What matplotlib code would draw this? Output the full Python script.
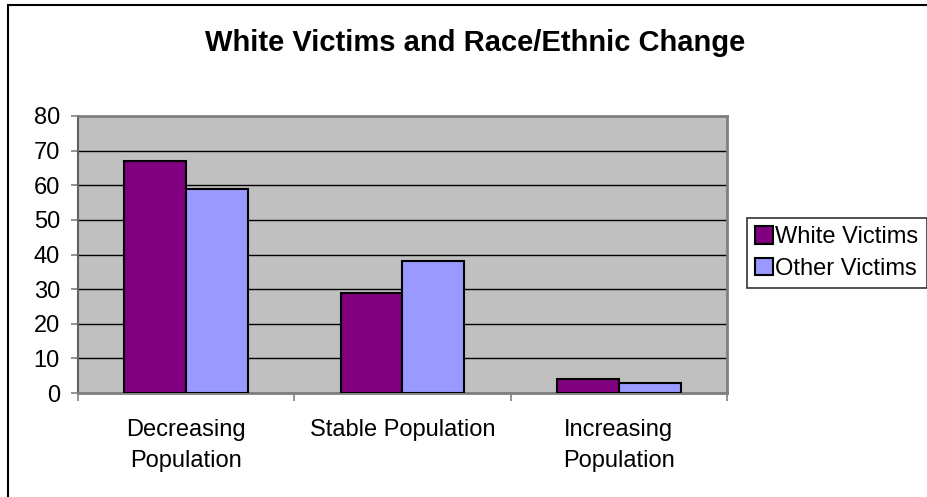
"""
White victims vs other victims by neighbourhood race/ethnic change.
"""

import matplotlib
matplotlib.use('Agg')
import matplotlib.pyplot as plt
from matplotlib.patches import Rectangle
import numpy as np

plt.rcParams['font.family'] = ['Liberation Sans', 'DejaVu Sans']

# Data
categories = ['Decreasing\nPopulation', 'Stable Population', 'Increasing\nPopulation']
white_victims = [67, 29, 4]
other_victims = [59, 38, 3]
series_names = ['White Victims', 'Other Victims']
y_ticks = [0, 10, 20, 30, 40, 50, 60, 70, 80]

WHITE_COLOR = '#800080'
OTHER_COLOR = '#9999FF'
PLOT_BG = '#C0C0C0'
AXIS_GRAY = '#808080'

fig = plt.figure(figsize=(9.28, 4.97), dpi=100)
fig.patch.set_facecolor('white')

# Chart frame (runs off the right and bottom edges)
fig.patches.append(Rectangle((8 / 928, -0.05), 1.0, 1 - 5 / 497 + 0.05,
                             transform=fig.transFigure, fill=False,
                             edgecolor='black', linewidth=1.5, zorder=0))

ax = fig.add_axes([78 / 928, 1 - 393 / 497, (727 - 78) / 928, (393 - 116) / 497])
ax.set_facecolor(PLOT_BG)

x = np.arange(len(categories))
width = 1 / 3.5
ax.bar(x - width / 2, white_victims, width, color=WHITE_COLOR,
       edgecolor='black', linewidth=1.5, label=series_names[0], zorder=3)
ax.bar(x + width / 2, other_victims, width, color=OTHER_COLOR,
       edgecolor='black', linewidth=1.5, label=series_names[1], zorder=3)

ax.set_xlim(-0.5, len(categories) - 0.5)
ax.set_ylim(0, 80)
ax.set_yticks(y_ticks)
ax.yaxis.grid(True, color='black', linewidth=1.0, zorder=1)
ax.set_axisbelow(True)

# Category labels centred, tick marks on the boundaries between groups
ax.set_xticks(x)
ax.set_xticklabels(categories, fontsize=17, linespacing=1.5)
ax.set_xticks(np.arange(-0.5, len(categories)), minor=True)
ax.tick_params(axis='x', which='major', length=0, pad=19)
ax.tick_params(axis='x', which='minor', length=6, color=AXIS_GRAY, width=1.2)
ax.tick_params(axis='y', length=5, color=AXIS_GRAY, width=1.2, labelsize=17, pad=8)

for side in ['top', 'right']:
    ax.spines[side].set_color(AXIS_GRAY)
    ax.spines[side].set_linewidth(2)
ax.spines['left'].set_color('#606060')
ax.spines['left'].set_linewidth(1.5)
ax.spines['bottom'].set_color(AXIS_GRAY)
ax.spines['bottom'].set_linewidth(2)

fig.text(0.512, 1 - 43 / 497, 'White Victims and Race/Ethnic Change',
         ha='center', va='center', fontsize=21, fontweight='bold')

leg = fig.legend(loc='upper left', bbox_to_anchor=(747 / 928, 1 - 218 / 497),
                 fontsize=17, frameon=True, fancybox=False, handlelength=0.75,
                 handleheight=0.75, handletextpad=0.1, borderpad=0.35,
                 labelspacing=0.4, borderaxespad=0)
leg.get_frame().set_edgecolor('black')
leg.get_frame().set_linewidth(1.2)

fig.savefig('out.png', dpi=100, facecolor='white')
